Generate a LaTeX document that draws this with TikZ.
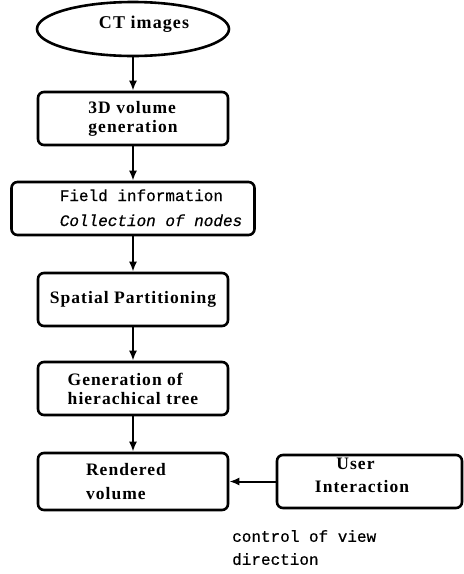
\documentclass[tikz,border=0pt]{standalone}
\usepackage{fontspec}
\setmainfont{Liberation Serif}
\newfontfamily\boxfont[LetterSpace=6]{Liberation Serif}
\newfontfamily\notefont[FakeBold=0.6]{Liberation Mono}
\usetikzlibrary{shapes.geometric,arrows.meta}

\begin{document}
\begin{tikzpicture}[x=1pt,y=-1pt,
    stagebox/.style={draw,line width=2.6pt,rounded corners=6pt,minimum width=190pt,
      minimum height=53pt,inner sep=0pt,align=left,
      font=\boxfont\bfseries\fontsize{17.5}{19}\selectfont},
    flow/.style={line width=2pt,-{Latex[length=10pt,width=8pt]}}]
  \useasboundingbox (0,0) rectangle (464,574);
  \node[draw,ellipse,line width=2.6pt,minimum width=192pt,minimum height=54pt,inner sep=0pt,
    text depth=14pt,font=\boxfont\bfseries\fontsize{18}{20}\selectfont] (ct) at (133,29)
    {\hspace*{22pt}CT images};
  \node[stagebox] (vol) at (133,118.5) {3D volume\\generation};
  \node[stagebox,minimum width=243pt,align=none,font=\notefont\fontsize{16}{25}\selectfont] (field) at (133,208.5)
    {\hspace*{36pt}\begin{tabular}{@{}l@{}}Field information\\\textit{Collection of nodes}\end{tabular}};
  \node[stagebox] (part) at (133,299.5) {Spatial Partitioning};
  \node[stagebox] (tree) at (133,388.5) {Generation of\\hierachical tree};
  \node[stagebox,minimum height=57pt,font=\boxfont\bfseries\fontsize{17.5}{24}\selectfont] (rend) at (133,481.5)
    {Rendered\hspace*{14pt}\\volume};
  \node[stagebox,minimum width=185pt,align=center,text depth=12pt,
    font=\boxfont\bfseries\fontsize{17.5}{23}\selectfont] (user) at (369.5,481.5)
    {User\hspace*{28pt}\\Interaction\hspace*{15pt}};
  % view direction note
  \node[anchor=north west,inner sep=0pt,align=left,font=\notefont\fontsize{16}{23}\selectfont] (note) at (232,530)
    {control of view\\direction};
  \draw[flow] (ct.south) -- (vol.north);
  \draw[flow] (vol.south) -- (field.north);
  \draw[flow] (field.south) -- (part.north);
  \draw[flow] (part.south) -- (tree.north);
  \draw[flow] (tree.south) -- (rend.north);
  \draw[flow] (user.west) -- (rend.east);
\end{tikzpicture}
\end{document}
